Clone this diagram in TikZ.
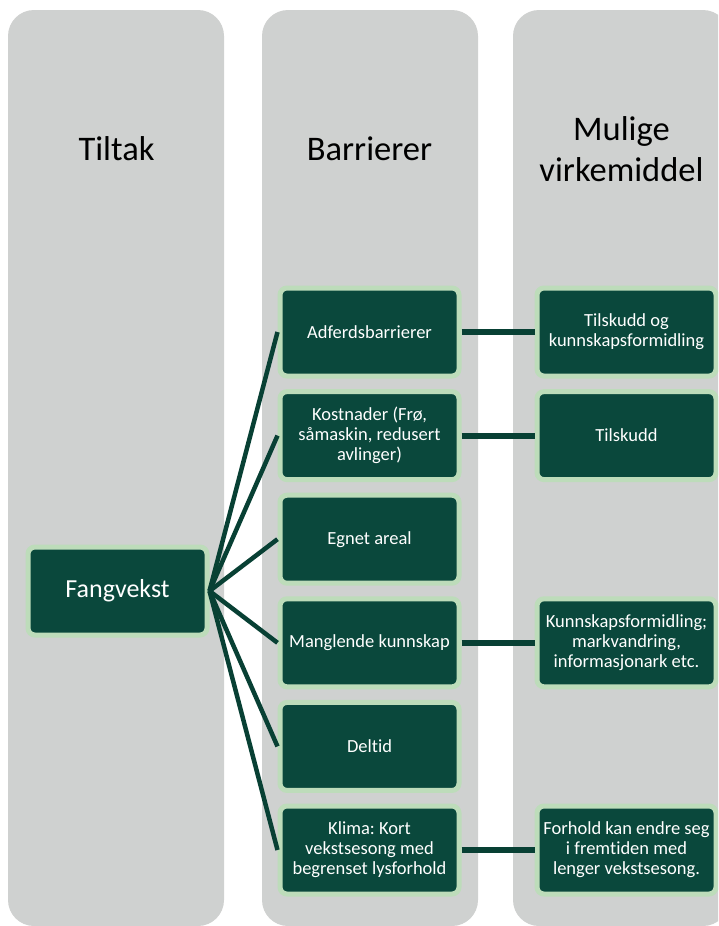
\documentclass[tikz,border=0pt]{standalone}
\usepackage{fontspec}
\setmainfont{Carlito}[Ligatures=NoCommon]
\usetikzlibrary{positioning}
\definecolor{gran}{RGB}{10,72,60}
\definecolor{strek}{RGB}{8,64,52}
\definecolor{lys}{RGB}{189,220,186}
\definecolor{kolonne}{RGB}{207,209,208}
\frenchspacing

\begin{document}
\begin{tikzpicture}[x=1pt,y=-1pt,
  boks/.style={draw=lys,line width=5pt,fill=gran,rounded corners=7pt,minimum width=179pt,minimum height=88pt,
    inner sep=2pt,align=center,text=white,font=\fontsize{18.5}{20}\selectfont},
  tittel/.style={align=center,font=\fontsize{34.5}{41}\selectfont},
  kobling/.style={strek,line width=4.5pt}]
  \clip (0,0) rectangle (718,926);
  \foreach \x in {8,262,513} \fill[kolonne,rounded corners=26pt] (\x,10) rectangle ++(216,916);
  \node[tittel] (tiltak) at (116.5,149) {Tiltak};
  \node[tittel] (barrierer) at (369.5,149) {Barrierer};
  \node[tittel] (virkemiddel) at (621.5,149) {Mulige\\virkemiddel};
  % tiltak og barrierer
  \node[boks,font=\fontsize{26}{30}\selectfont] (fang) at (117.5,591) {Fangvekst};
  \foreach \i/\t in {1/Adferdsbarrierer,2/{Kostnader (Frø,\\såmaskin, redusert\\avlinger)},3/Egnet areal,
    4/Manglende kunnskap,5/Deltid,6/{Klima: Kort\\vekstsesong med\\begrenset lysforhold}}
    \node[boks] (b\i) at (369.5,228.4+103.6*\i) {\t};
  % virkemiddel
  \node[boks,right=73pt of b1] (r1) {Tilskudd og\\kunnskapsformidling};
  \node[boks,right=73pt of b2] (r2) {Tilskudd};
  \node[boks,right=73pt of b4] (r4) {Kunnskapsformidling;\\markvandring,\\informasjonark etc.};
  \node[boks,right=73pt of b6] (r6) {Forhold kan endre seg\\i fremtiden med\\lenger vekstsesong.};
  \foreach \i in {1,...,6} \draw[kobling] (fang.east) -- (b\i.west);
  \foreach \i in {1,2,4,6} \draw[kobling,line width=6pt] (b\i.east) -- (r\i.west);
\end{tikzpicture}
\end{document}
